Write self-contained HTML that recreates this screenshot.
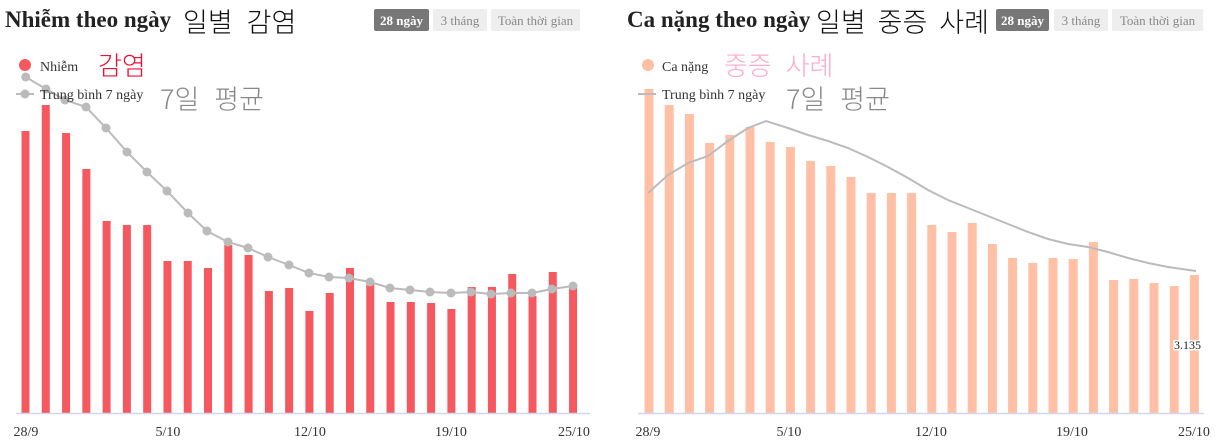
<!DOCTYPE html>
<html><head><meta charset="utf-8"><style>
body{margin:0;background:#fff;width:1219px;height:445px;overflow:hidden;font-family:"Liberation Serif","Noto Sans CJK KR",serif}
svg{position:absolute;left:0;top:0}
.k{font-family:"Noto Sans CJK KR",sans-serif;font-weight:300}
</style></head><body>
<svg width="1219" height="445" xmlns="http://www.w3.org/2000/svg" font-family="Liberation Serif, Noto Sans CJK KR, serif">
<text x="5" y="27" font-size="23" font-weight="bold" fill="#222">Nhiễm theo ngày</text>
<text x="183" y="32" font-size="27" fill="#111" class="k" word-spacing="8">일별 감염</text>
<rect x="374" y="9" width="55" height="22" rx="2" fill="#777"/>
<text x="401.5" y="25" font-size="13" fill="#fff" text-anchor="middle" font-weight="bold">28 ngày</text>
<rect x="433" y="9" width="54" height="22" rx="2" fill="#eee"/>
<text x="460" y="25" font-size="13" fill="#888" text-anchor="middle">3 tháng</text>
<rect x="491" y="9" width="89" height="22" rx="2" fill="#eee"/>
<text x="535.5" y="25" font-size="13" fill="#888" text-anchor="middle">Toàn thời gian</text>
<g fill="#f5585e" id="lb"></g>
<line x1="16" y1="413.5" x2="590" y2="413.5" stroke="#cfd8f0" stroke-width="1.5"/>
<polyline id="lp" fill="none" stroke="#bbb" stroke-width="2" points="25.7,77 46,89 65,100 86,107 106,128 127,152 147,172 167,191 188,213 207,231 228,242 248,248 268,257 289,265 309,273 329,277 349,278 370,282 390,288 410,290 430,292 451,293 471,292 491,294 511,293 532,293 552,289 573,286"/>
<g fill="#bbb" id="ld"></g>
<circle cx="25" cy="65" r="6" fill="#f5585e"/>
<text x="40" y="71" font-size="14" fill="#333">Nhiễm</text>
<text x="98" y="75" font-size="26" fill="#ee1133" class="k">감염</text>
<line x1="16" y1="94" x2="34" y2="94" stroke="#bbb" stroke-width="2"/><circle cx="25" cy="94" r="4.5" fill="#bbb"/>
<text x="40" y="99" font-size="14" fill="#333">Trung bình 7 ngày</text>
<text x="160" y="109" font-size="27" fill="#888" class="k" word-spacing="9">7일 평균</text>
<g font-size="14" fill="#333" text-anchor="middle">
<text x="26" y="436">28/9</text><text x="168" y="436">5/10</text><text x="310" y="436">12/10</text><text x="451" y="436">19/10</text><text x="574" y="436">25/10</text>
</g>
<text x="627" y="27" font-size="23" font-weight="bold" fill="#222">Ca nặng theo ngày</text>
<text x="816" y="32" font-size="27" fill="#111" class="k" word-spacing="6">일별 중증 사례</text>
<rect x="996" y="9" width="53" height="22" rx="2" fill="#777"/>
<text x="1022.5" y="25" font-size="13" fill="#fff" text-anchor="middle" font-weight="bold">28 ngày</text>
<rect x="1054" y="9" width="54" height="22" rx="2" fill="#eee"/>
<text x="1081" y="25" font-size="13" fill="#888" text-anchor="middle">3 tháng</text>
<rect x="1112" y="9" width="91" height="22" rx="2" fill="#eee"/>
<text x="1157.5" y="25" font-size="13" fill="#888" text-anchor="middle">Toàn thời gian</text>
<g fill="#ffc0a5" id="rb"></g>
<line x1="638" y1="413.5" x2="1204" y2="413.5" stroke="#cfd8f0" stroke-width="1.5"/>
<polyline fill="none" stroke="#bbb" stroke-width="2" points="648,193 668,175 688,163 708,156 728,141 748,128 766,121 788,128 808,135 828,141 848,148 868,157 888,167 908,178 928,190 948,200 968,208 988,216 1008,224 1028,232 1048,239 1068,244 1088,247 1108,252 1128,258 1148,263 1168,267 1196,271"/>
<circle cx="648" cy="65" r="6" fill="#ffc0a5"/>
<text x="662" y="71" font-size="14" fill="#333">Ca nặng</text>
<text x="724" y="75" font-size="26" fill="#ffaacc" class="k" word-spacing="8">중증 사례</text>
<line x1="638" y1="94" x2="656" y2="94" stroke="#bbb" stroke-width="2"/>
<text x="662" y="99" font-size="14" fill="#333">Trung bình 7 ngày</text>
<text x="786" y="109" font-size="27" fill="#888" class="k" word-spacing="9">7일 평균</text>
<text x="1174" y="349" font-size="12" fill="#222" stroke="#fff" stroke-width="3" paint-order="stroke">3.135</text>
<g font-size="14" fill="#333" text-anchor="middle">
<text x="648" y="436">28/9</text><text x="789" y="436">5/10</text><text x="931" y="436">12/10</text><text x="1072" y="436">19/10</text><text x="1194" y="436">25/10</text>
</g>
</svg>
<script>
const NS="http://www.w3.org/2000/svg";
const lt=[131,105,133,169,221,225,225,261,261,268,245,255,291,288,311,293,268,284,302,302,303,309,287,287,274,296,272,287];
const rt=[89,105,114,143,135,127,142,147,161,166,177,193,193,193,225,232,223,244,258,263,258,259,242,280,279,283,286,275];
const lb=document.getElementById('lb'),rb=document.getElementById('rb'),ld=document.getElementById('ld');
lt.forEach((t,i)=>{const c=25.5+i*20.28;const r=document.createElementNS(NS,'rect');r.setAttribute('x',c-4);r.setAttribute('y',t);r.setAttribute('width',8);r.setAttribute('height',413-t);lb.appendChild(r);});
rt.forEach((t,i)=>{const c=649+i*20.2;const r=document.createElementNS(NS,'rect');r.setAttribute('x',c-4.5);r.setAttribute('y',t);r.setAttribute('width',9);r.setAttribute('height',413-t);rb.appendChild(r);});
document.getElementById('lp').getAttribute('points').split(' ').forEach(p=>{const [x,y]=p.split(',');const c=document.createElementNS(NS,'circle');c.setAttribute('cx',x);c.setAttribute('cy',y);c.setAttribute('r',4.5);ld.appendChild(c);});
</script>
</body></html>
